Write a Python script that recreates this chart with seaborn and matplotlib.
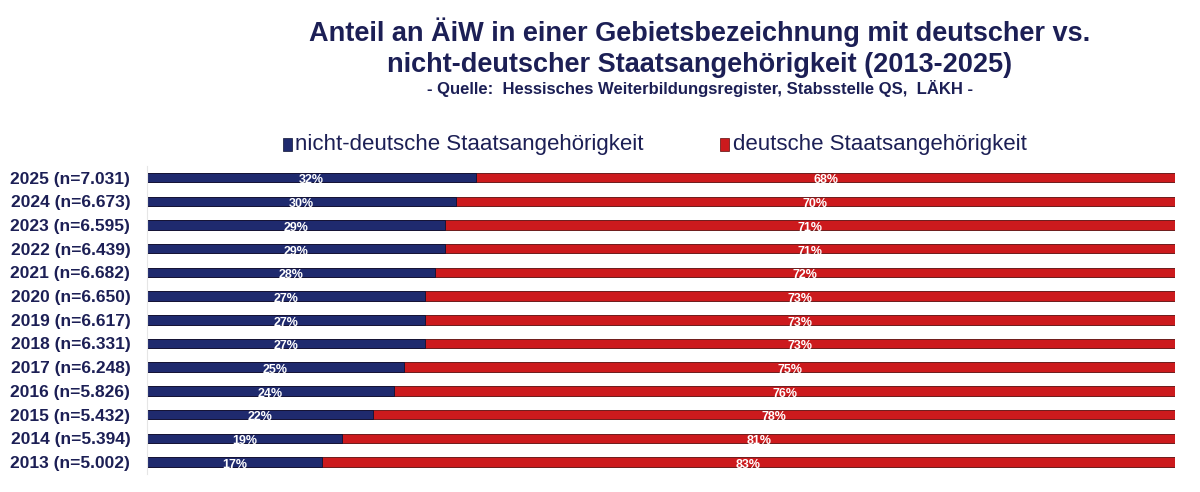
import matplotlib
matplotlib.use("Agg")
import matplotlib.pyplot as plt
import pandas as pd
import seaborn as sns

YEARS = ["2025", "2024", "2023", "2022", "2021", "2020", "2019",
         "2018", "2017", "2016", "2015", "2014", "2013"]
N_VALUES = ["7.031", "6.673", "6.595", "6.439", "6.682", "6.650", "6.617",
            "6.331", "6.248", "5.826", "5.432", "5.394", "5.002"]
NICHT_DEUTSCH = [32, 30, 29, 29, 28, 27, 27, 27, 25, 24, 22, 19, 17]
DEUTSCH = [68, 70, 71, 71, 72, 73, 73, 73, 75, 76, 78, 81, 83]

NAVY = "#1F2A6E"
RED = "#CC1A1D"
TEXT = "#1C1F55"

sns.set_theme(style="white")
plt.rcParams["font.family"] = ["Liberation Sans", "DejaVu Sans"]

labels = [f"{y} (n={n})" for y, n in zip(YEARS, N_VALUES)]
df = pd.DataFrame({
    "label": labels,
    "nicht": NICHT_DEUTSCH,
    "deutsch": DEUTSCH,
})
df["total"] = df["nicht"] + df["deutsch"]

fig = plt.figure(figsize=(12, 4.92), dpi=100)
ax = fig.add_axes([0.1225, 0.037, 0.857, 0.626])

# stacked: full bar in red, nicht-deutsch share drawn on top
sns.barplot(data=df, y="label", x="total", color=RED, orient="h",
            width=0.4, edgecolor="#5a0a0a", linewidth=0.6, saturation=1, ax=ax)
sns.barplot(data=df, y="label", x="nicht", color=NAVY, orient="h",
            width=0.4, edgecolor="#0d1233", linewidth=0.6, saturation=1, ax=ax)

for i, row in df.iterrows():
    ax.text(row["nicht"] / 2, i + 0.12, f"{row['nicht']}%", ha="center",
            va="center", color="white", fontsize=9, fontweight="bold")
    ax.text(row["nicht"] + row["deutsch"] / 2, i + 0.12, f"{row['deutsch']}%",
            ha="center", va="center", color="white", fontsize=9, fontweight="bold")

ax.set_xlim(0, 100)
ax.set_ylim(len(df) - 0.5, -0.5)
ax.set_xlabel("")
ax.set_ylabel("")
ax.set_xticks([])
ax.tick_params(axis="y", length=0, pad=12)
for t in ax.get_yticklabels():
    t.set_fontsize(12.5)
    t.set_fontweight("bold")
    t.set_color(TEXT)
for side in ["top", "right", "bottom"]:
    ax.spines[side].set_visible(False)
ax.spines["left"].set_color("#e6e6e6")
ax.spines["left"].set_linewidth(0.8)

fig.text(0.583, 0.935, "Anteil an ÄiW in einer Gebietsbezeichnung mit deutscher vs.",
         ha="center", va="center", fontsize=19.5, fontweight="bold", color=TEXT)
fig.text(0.583, 0.868, "nicht-deutscher Staatsangehörigkeit (2013-2025)",
         ha="center", va="center", fontsize=19.5, fontweight="bold", color=TEXT)
fig.text(0.583, 0.821, "- Quelle:  Hessisches Weiterbildungsregister, Stabsstelle QS,  LÄKH -",
         ha="center", va="center", fontsize=12, fontweight="bold", color=TEXT)

# legend
fig.patches.append(plt.Rectangle((0.2355, 0.693), 0.0075, 0.026, transform=fig.transFigure,
                                 facecolor=NAVY, edgecolor="#0d1233", lw=0.5))
fig.text(0.246, 0.706, "nicht-deutsche Staatsangehörigkeit", ha="left", va="center",
         fontsize=16, color=TEXT)
fig.patches.append(plt.Rectangle((0.600, 0.693), 0.0075, 0.026, transform=fig.transFigure,
                                 facecolor=RED, edgecolor="#5a0a0a", lw=0.5))
fig.text(0.611, 0.706, "deutsche Staatsangehörigkeit", ha="left", va="center",
         fontsize=16, color=TEXT)

fig.savefig("out.png", dpi=100)
